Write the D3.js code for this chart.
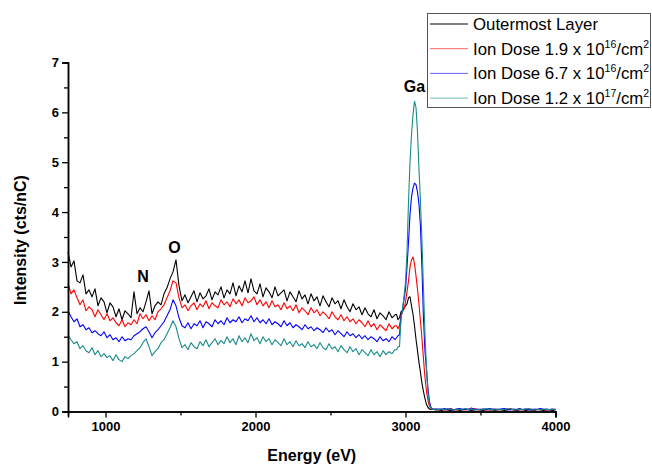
<!DOCTYPE html>
<html>
<head>
<meta charset="utf-8">
<script src="https://cdn.jsdelivr.net/npm/d3@7"></script>
<style>
  html, body { margin: 0; padding: 0; background: #fff; }
  svg { display: block; font-family: "Liberation Sans", Arial, sans-serif; }
</style>
</head>
<body>
<svg id="chart" width="652" height="464"></svg>
<script>
// Energy sampling grid (eV): coarse over the background, finer across the Ga peak
const energy = [].concat(
  d3.range(750, 2940, 20),
  d3.range(2940, 3201, 10),
  d3.range(3220, 4001, 20)
);

// Intensity (cts/nC) for each sample
const outermost = [
  3.20, 2.90, 3.02, 2.62, 2.58, 2.74, 2.36, 2.44, 2.30, 2.46,
  2.12, 2.28, 2.20, 1.98, 2.18, 2.10, 1.90, 2.06, 1.84, 2.02,
  1.96, 1.88, 2.40, 1.96, 2.08, 2.00, 2.20, 2.42, 1.96, 2.12,
  2.20, 2.14, 2.36, 2.48, 2.66, 2.80, 3.04, 2.52, 2.22, 2.34,
  2.18, 2.30, 2.42, 2.20, 2.38, 2.26, 2.32, 2.46, 2.24, 2.40,
  2.34, 2.50, 2.28, 2.44, 2.36, 2.58, 2.32, 2.52, 2.40, 2.62,
  2.38, 2.66, 2.42, 2.36, 2.56, 2.30, 2.48, 2.40, 2.28, 2.50,
  2.32, 2.38, 2.44, 2.22, 2.40, 2.30, 2.20, 2.42, 2.26, 2.34,
  2.16, 2.36, 2.22, 2.30, 2.12, 2.32, 2.20, 2.10, 2.28, 2.16,
  2.22, 2.06, 2.24, 2.10, 2.00, 2.16, 2.04, 2.10, 1.94, 2.08,
  1.96, 1.90, 2.04, 1.86, 1.98, 1.92, 1.84, 2.00, 1.88, 1.94,
  1.95, 1.84, 1.88, 2.00, 2.02, 2.08, 2.12, 2.16, 2.28, 2.30, 2.12, 1.95, 1.72, 1.45, 1.22, 0.98, 0.78, 0.56, 0.40, 0.26,
  0.14, 0.08, 0.05, 0.04, 0.05, 0.04, 0.03,
  0.03, 0.02, 0.04, 0.03, 0.02, 0.03, 0.04, 0.02, 0.03, 0.05, 0.03, 0.02, 0.03, 0.04, 0.03, 0.02, 0.04, 0.03, 0.03, 0.02,
  0.04, 0.03, 0.02, 0.03, 0.05, 0.03, 0.02, 0.03, 0.04, 0.02, 0.03, 0.03, 0.02, 0.04, 0.03, 0.02, 0.03, 0.03, 0.02, 0.03
];
const dose19e16 = [
  2.58, 2.36, 2.44, 2.28, 2.14, 2.24, 2.02, 2.10, 2.04, 1.90,
  2.04, 1.94, 1.84, 1.96, 1.82, 1.88, 1.78, 1.72, 1.84, 1.70,
  1.78, 1.74, 1.84, 1.76, 1.96, 1.86, 1.94, 1.82, 1.92, 1.84,
  2.00, 2.06, 2.14, 2.28, 2.42, 2.62, 2.58, 2.28, 2.08, 2.14,
  2.02, 2.12, 2.18, 2.04, 2.16, 2.10, 2.22, 2.06, 2.18, 2.12,
  2.08, 2.24, 2.14, 2.20, 2.10, 2.26, 2.16, 2.24, 2.12, 2.28,
  2.18, 2.22, 2.30, 2.14, 2.24, 2.12, 2.20, 2.08, 2.22, 2.10,
  2.14, 2.04, 2.18, 2.06, 2.12, 2.02, 2.14, 1.98, 2.08, 2.02,
  1.94, 2.08, 1.98, 2.04, 1.92, 2.00, 1.94, 1.86, 2.00, 1.90,
  1.84, 1.94, 1.82, 1.90, 1.80, 1.86, 1.76, 1.84, 1.78, 1.70,
  1.82, 1.70, 1.76, 1.64, 1.74, 1.68, 1.62, 1.76, 1.66, 1.72,
  1.72, 1.66, 1.72, 1.92, 2.00, 2.05, 2.20, 2.40, 2.62, 2.90, 3.04, 3.10, 2.96, 2.72, 2.45, 2.15, 1.80, 1.45, 1.05, 0.68,
  0.40, 0.22, 0.10, 0.06, 0.04, 0.05, 0.04,
  0.04, 0.05, 0.03, 0.04, 0.06, 0.04, 0.03, 0.05, 0.04, 0.03, 0.05, 0.04, 0.06, 0.03, 0.04, 0.05, 0.03, 0.04, 0.05, 0.04,
  0.03, 0.05, 0.04, 0.04, 0.06, 0.03, 0.04, 0.05, 0.03, 0.04, 0.04, 0.05, 0.03, 0.04, 0.05, 0.04, 0.03, 0.04, 0.05, 0.04
];
const dose67e16 = [
  2.02, 1.90, 1.80, 1.86, 1.70, 1.74, 1.64, 1.68, 1.58, 1.62,
  1.56, 1.52, 1.60, 1.48, 1.54, 1.44, 1.48, 1.40, 1.50, 1.42,
  1.46, 1.44, 1.52, 1.56, 1.60, 1.66, 1.70, 1.60, 1.48, 1.58,
  1.64, 1.72, 1.80, 1.92, 2.04, 2.24, 2.12, 1.88, 1.72, 1.68,
  1.78, 1.66, 1.76, 1.72, 1.82, 1.68, 1.80, 1.76, 1.70, 1.84,
  1.76, 1.82, 1.74, 1.88, 1.78, 1.84, 1.80, 1.90, 1.78, 1.86,
  1.82, 1.92, 1.80, 1.88, 1.78, 1.84, 1.76, 1.86, 1.74, 1.80,
  1.76, 1.70, 1.82, 1.72, 1.78, 1.68, 1.74, 1.70, 1.64, 1.74,
  1.66, 1.70, 1.62, 1.68, 1.64, 1.58, 1.68, 1.60, 1.64, 1.54,
  1.62, 1.56, 1.50, 1.60, 1.52, 1.56, 1.48, 1.54, 1.46, 1.52,
  1.44, 1.50, 1.46, 1.40, 1.50, 1.42, 1.46, 1.40, 1.50, 1.44,
  1.48, 1.52, 1.54, 1.90, 2.05, 2.25, 2.45, 2.90, 3.40, 3.95, 4.30, 4.48, 4.58, 4.55, 4.40, 4.15, 3.70, 2.85, 1.85, 1.20,
  0.85, 0.45, 0.20, 0.08, 0.05, 0.04, 0.05,
  0.05, 0.04, 0.06, 0.04, 0.05, 0.03, 0.05, 0.06, 0.04, 0.05, 0.04, 0.07, 0.04, 0.05, 0.03, 0.05, 0.04, 0.06, 0.04, 0.05,
  0.04, 0.05, 0.06, 0.04, 0.03, 0.05, 0.04, 0.06, 0.04, 0.05, 0.04, 0.03, 0.05, 0.04, 0.06, 0.04, 0.05, 0.04, 0.03, 0.05
];
const dose12e17 = [
  1.54, 1.44, 1.36, 1.40, 1.26, 1.32, 1.22, 1.18, 1.28, 1.14,
  1.22, 1.10, 1.16, 1.08, 1.12, 1.02, 1.14, 1.04, 1.00, 1.10,
  1.06, 1.12, 1.16, 1.22, 1.28, 1.38, 1.46, 1.30, 1.12, 1.20,
  1.26, 1.38, 1.44, 1.56, 1.68, 1.82, 1.70, 1.46, 1.28, 1.34,
  1.24, 1.38, 1.30, 1.26, 1.40, 1.32, 1.44, 1.30, 1.38, 1.46,
  1.34, 1.42, 1.36, 1.50, 1.38, 1.46, 1.34, 1.52, 1.40, 1.48,
  1.38, 1.56, 1.42, 1.48, 1.36, 1.50, 1.40, 1.46, 1.34, 1.44,
  1.38, 1.32, 1.46, 1.34, 1.40, 1.30, 1.42, 1.32, 1.36, 1.28,
  1.40, 1.30, 1.34, 1.26, 1.38, 1.28, 1.24, 1.36, 1.26, 1.30,
  1.20, 1.32, 1.24, 1.18, 1.30, 1.20, 1.26, 1.14, 1.24, 1.18,
  1.12, 1.24, 1.14, 1.20, 1.10, 1.22, 1.14, 1.20, 1.16, 1.24,
  1.24, 1.30, 1.30, 1.85, 2.05, 2.30, 2.60, 3.20, 4.20, 5.00, 5.55, 5.95, 6.22, 6.10, 5.60, 4.85, 4.20, 3.40, 2.45, 1.55,
  0.85, 0.35, 0.14, 0.07, 0.05, 0.04, 0.05,
  0.04, 0.05, 0.04, 0.06, 0.04, 0.03, 0.05, 0.04, 0.05, 0.06, 0.04, 0.05, 0.03, 0.04, 0.05, 0.04, 0.06, 0.04, 0.05, 0.03,
  0.05, 0.04, 0.04, 0.06, 0.05, 0.04, 0.03, 0.05, 0.04, 0.05, 0.06, 0.04, 0.03, 0.05, 0.04, 0.05, 0.04, 0.04, 0.05, 0.03
];

const seriesNames = ["Outermost Layer", "Ion Dose 1.9 x 10|16|/cm|2", "Ion Dose 6.7 x 10|16|/cm|2", "Ion Dose 1.2 x 10|17|/cm|2"];
const seriesValues = [outermost, dose19e16, dose67e16, dose12e17];
const seriesColors = ["#000000", "#ff0000", "#0000ff", "#1a8a8a"];

const xTicks = [1000, 2000, 3000, 4000];
const yTicks = [0, 1, 2, 3, 4, 5, 6, 7];

// Peak annotations: element symbol placed at (energy, intensity)
const peakLabels = ["N", "O", "Ga"];
const peakEnergy = [1250, 1460, 3060];
const peakLevel = [2.6, 3.17, 6.4];

const svg = d3.select("#chart");
const x = d3.scaleLinear().domain([750, 4000]).range([68, 555.5]);
const y = d3.scaleLinear().domain([0, 7]).range([411.5, 62.5]);

// Spectra
const line = d3.line().x(d => x(d[0])).y(d => y(d[1]));
seriesValues.forEach((vals, k) => {
  svg.append("path")
    .datum(energy.map((e, i) => [e, vals[i]]))
    .attr("d", line)
    .attr("fill", "none")
    .attr("stroke", seriesColors[k])
    .attr("stroke-width", 1.1)
    .attr("stroke-linejoin", "round");
});

// X axis with minor ticks at half steps
const xAxisG = svg.append("g").attr("transform", `translate(0,${y(0)})`);
xAxisG.call(d3.axisBottom(x).tickValues([1500, 2500, 3500]).tickSize(4).tickFormat(""));
xAxisG.call(g => g.append("g").call(d3.axisBottom(x).tickValues(xTicks).tickSize(6).tickFormat(d3.format("d"))));
xAxisG.selectAll(".domain").attr("stroke", "#000").attr("stroke-width", 1.5);
xAxisG.selectAll(".tick line").attr("stroke", "#000").attr("stroke-width", 1.3);
xAxisG.selectAll("text").attr("font-size", 13).attr("font-weight", "bold").attr("fill", "#000")
  .attr("font-family", "Liberation Sans, Arial, sans-serif").attr("dy", "1.05em").attr("y", 6);

// Y axis with minor ticks at half steps
const yAxisG = svg.append("g").attr("transform", `translate(${x(750)},0)`);
yAxisG.call(d3.axisLeft(y).tickValues(d3.range(0.5, 7, 1)).tickSize(4).tickFormat(""));
yAxisG.call(g => g.append("g").call(d3.axisLeft(y).tickValues(yTicks).tickSize(6).tickFormat(d3.format("d"))));
yAxisG.selectAll(".domain").attr("stroke", "#000").attr("stroke-width", 1.5);
yAxisG.selectAll(".tick line").attr("stroke", "#000").attr("stroke-width", 1.3);
yAxisG.selectAll("text").attr("font-size", 13).attr("font-weight", "bold").attr("fill", "#000")
  .attr("font-family", "Liberation Sans, Arial, sans-serif").attr("x", -9);

// Axis titles
svg.append("text")
  .attr("x", (x(750) + x(4000)) / 2).attr("y", 461)
  .attr("text-anchor", "middle").attr("font-size", 16).attr("font-weight", "bold")
  .text("Energy (eV)");
svg.append("text")
  .attr("transform", `translate(26,${(y(0) + y(7)) / 2 + 3}) rotate(-90)`)
  .attr("text-anchor", "middle").attr("font-size", 16).attr("font-weight", "bold")
  .text("Intensity (cts/nC)");

// Element labels
peakLabels.forEach((t, i) => {
  svg.append("text")
    .attr("x", x(peakEnergy[i])).attr("y", y(peakLevel[i]))
    .attr("text-anchor", "middle").attr("font-size", 16).attr("font-weight", "bold")
    .text(t);
});

// Legend
const lg = svg.append("g");
lg.append("rect").attr("x", 427.5).attr("y", 13.5).attr("width", 223).attr("height", 94)
  .attr("fill", "#fff").attr("stroke", "#555").attr("stroke-width", 1);
seriesNames.forEach((name, k) => {
  const cy = 24 + k * 24.7;
  lg.append("line").attr("x1", 430).attr("x2", 468).attr("y1", cy).attr("y2", cy)
    .attr("stroke", seriesColors[k]).attr("stroke-width", 1).attr("opacity", k === 0 ? 1 : 0.6);
  const txt = lg.append("text").attr("x", 473).attr("y", cy + 6).attr("font-size", 16.8).attr("fill", "#000");
  const parts = name.split("|");
  parts.forEach((p, j) => {
    const sup = j % 2 === 1;
    txt.append("tspan")
      .attr("font-size", sup ? 10.5 : 16.8)
      .attr("dy", sup ? -7 : (j > 0 ? 7 : 0))
      .text(p);
  });
});
</script>
</body>
</html>
